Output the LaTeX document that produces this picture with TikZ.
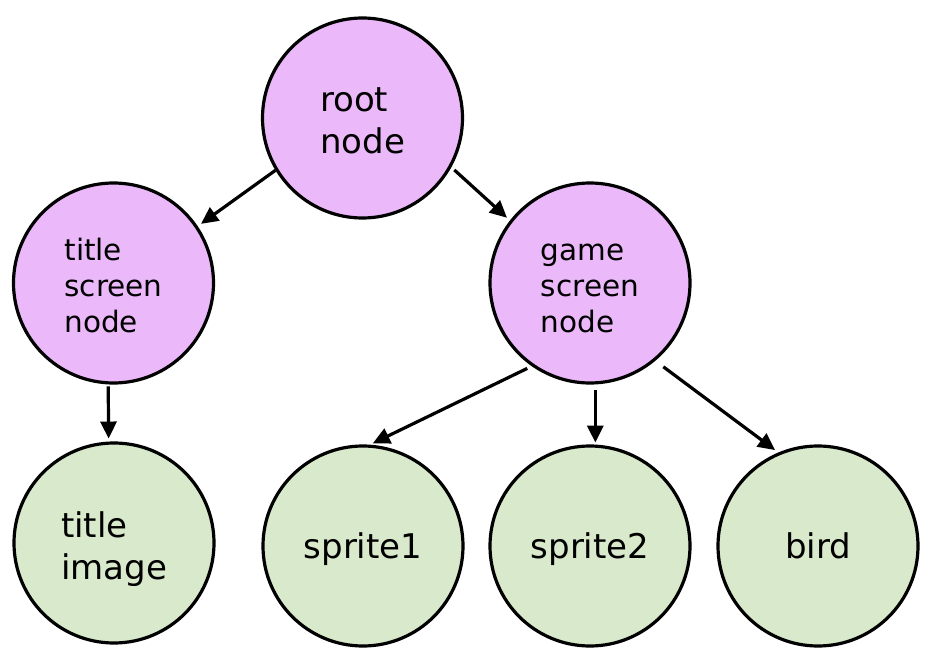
\documentclass[tikz,border=0pt]{standalone}
\usepackage{fontspec}
\setmainfont{DejaVu Sans}
\usetikzlibrary{arrows.meta}
\definecolor{purplefill}{RGB}{235,185,250}
\definecolor{greenfill}{RGB}{217,233,203}
\newcommand\txtlines[2]{\raisebox{0pt}[\dimexpr\height+#1\relax][\depth]{\begin{tabular}{@{}l@{}}#2\end{tabular}}}
\tikzset{
  bubble/.style={circle, draw=black, line width=3.2pt, minimum size=200pt, inner sep=0pt},
  inner/.style={bubble, fill=purplefill},
  leaf/.style={bubble, fill=greenfill},
  bigtxt/.style={font=\fontsize{34}{41.5}\selectfont},
  smalltxt/.style={font=\fontsize{29.5}{36}\selectfont},
  link/.style={line width=3.2pt, -{Triangle[length=17pt,width=16pt]}}
}
\begin{document}
\begin{tikzpicture}[x=1pt,y=-1pt]
\useasboundingbox[fill=white] (0,0) rectangle (937,663);
\node[inner, bigtxt] (root) at (362.5,118) {\txtlines{12pt}{root\\node}};
\node[inner, smalltxt] (title) at (113.5,283) {\txtlines{13pt}{title\\screen\\node}};
\node[inner, smalltxt] (game) at (590,283) {\txtlines{12pt}{game\\screen\\node}};
\node[leaf, bigtxt] (timg) at (114,543) {\txtlines{14pt}{title\\image}};
\node[leaf, bigtxt, text depth=0pt] (s1) at (363,546) {sprite1};
\node[leaf, bigtxt, text depth=0pt] (s2) at (590,546) {sprite2};
\node[leaf, bigtxt, text depth=0pt] (bird) at (818,546) {bird};
\draw[link, shorten >=4pt] (root.211) -- (title.34);
\draw[link, shorten <=4pt, shorten >=4pt] (root.331) -- (game.142);
\draw[link, shorten <=2pt, shorten >=3pt] (title.267) -- (timg.93);
\draw[link, shorten <=5pt, shorten >=3pt] (game.235) -- (s1.86);
\draw[link, shorten <=6pt, shorten >=2pt] (game.273) -- (s2.87);
\draw[link, shorten <=10pt, shorten >=4pt] (game.310) -- (bird.113);
\end{tikzpicture}
\end{document}
